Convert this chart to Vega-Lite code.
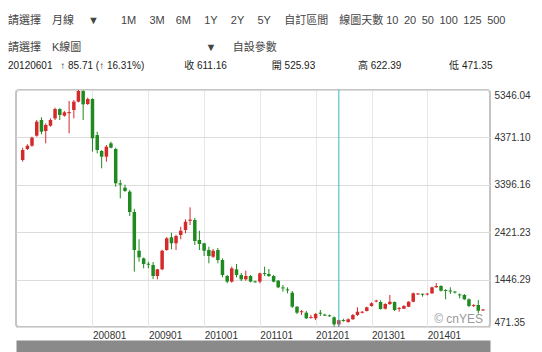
{
  "$schema": "https://vega.github.io/schema/vega-lite/v6.json",
  "width": 474,
  "height": 237,
  "autosize": "none",
  "padding": {"left": 16, "top": 90, "right": 52, "bottom": 25},
  "background": "#ffffff",
  "title": {
    "text": ["請選擇\u2003月線\u2003 ▼\u2003\u20031M\u2003\u20093M\u20036M\u2003\u20091Y\u2003\u20092Y\u2003\u20095Y\u2003\u2009自訂區間\u2003線圖天數 10\u200220\u200250\u2002100\u2002125\u2002500", "請選擇\u2003K線圖\u2003\u2003\u2003\u2003\u2003\u2003\u2003\u2003\u2003\u2003\u2003 ▼\u2003\u2002自設參數"],
    "subtitle": "20120601\u2002 ↑ 85.71 (↑ 16.31%)\u2003\u2003\u2003\u2003收 611.16\u2003\u2003\u2003\u2003\u2002開 525.93\u2003\u2003\u2003\u2003 高 622.39\u2003\u2003\u2003\u2003\u2002 低 471.35",
    "anchor": "start",
    "frame": "group",
    "dx": -8,
    "offset": 19,
    "font": "Liberation Sans, Noto Sans CJK TC, sans-serif",
    "fontSize": 11,
    "fontWeight": "normal",
    "color": "#444444",
    "lineHeight": 27,
    "subtitleFont": "Liberation Sans, Noto Sans CJK TC, sans-serif",
    "subtitleFontSize": 10,
    "subtitleColor": "#222222",
    "subtitlePadding": 8
  },
  "data": {
    "values": [
      {"d": "2006/10/01", "o": 3906, "h": 4160, "l": 3872, "c": 4112},
      {"d": "2006/11/01", "o": 4133, "h": 4230, "l": 4112, "c": 4200},
      {"d": "2006/12/01", "o": 4200, "h": 4385, "l": 4180, "c": 4365},
      {"d": "2007/01/01", "o": 4406, "h": 4729, "l": 4385, "c": 4694},
      {"d": "2007/02/01", "o": 4729, "h": 4784, "l": 4434, "c": 4488},
      {"d": "2007/03/01", "o": 4503, "h": 4660, "l": 4249, "c": 4626},
      {"d": "2007/04/01", "o": 4612, "h": 4763, "l": 4592, "c": 4729},
      {"d": "2007/05/01", "o": 4763, "h": 4982, "l": 4729, "c": 4955},
      {"d": "2007/06/01", "o": 4955, "h": 4969, "l": 4729, "c": 4832},
      {"d": "2007/07/01", "o": 4818, "h": 4914, "l": 4797, "c": 4887},
      {"d": "2007/08/01", "o": 4870, "h": 5120, "l": 4455, "c": 4892},
      {"d": "2007/09/01", "o": 4935, "h": 5140, "l": 4763, "c": 5106},
      {"d": "2007/10/01", "o": 5106, "h": 5346.04, "l": 5092, "c": 5325},
      {"d": "2007/11/01", "o": 5325, "h": 5340, "l": 4729, "c": 5051},
      {"d": "2007/12/01", "o": 5058, "h": 5188, "l": 5037, "c": 5161},
      {"d": "2008/01/01", "o": 5161, "h": 5175, "l": 4078, "c": 4352},
      {"d": "2008/02/01", "o": 4420, "h": 4489, "l": 4043, "c": 4112},
      {"d": "2008/03/01", "o": 4092, "h": 4112, "l": 3735, "c": 3975},
      {"d": "2008/04/01", "o": 3975, "h": 4215, "l": 3872, "c": 4180},
      {"d": "2008/05/01", "o": 4249, "h": 4283, "l": 4146, "c": 4160},
      {"d": "2008/06/01", "o": 4132, "h": 4160, "l": 3357, "c": 3427},
      {"d": "2008/07/01", "o": 3427, "h": 3495, "l": 3118, "c": 3400},
      {"d": "2008/08/01", "o": 3337, "h": 3400, "l": 3250, "c": 3269},
      {"d": "2008/09/01", "o": 3255, "h": 3290, "l": 2755, "c": 2837},
      {"d": "2008/10/01", "o": 2837, "h": 2900, "l": 1610, "c": 2055},
      {"d": "2008/11/01", "o": 2040, "h": 2275, "l": 1815, "c": 1905},
      {"d": "2008/12/01", "o": 1884, "h": 1900, "l": 1678, "c": 1767},
      {"d": "2009/01/01", "o": 1772, "h": 1815, "l": 1678, "c": 1752},
      {"d": "2009/02/01", "o": 1747, "h": 1808, "l": 1458, "c": 1520},
      {"d": "2009/03/01", "o": 1520, "h": 1665, "l": 1452, "c": 1658},
      {"d": "2009/04/01", "o": 1658, "h": 2060, "l": 1640, "c": 2040},
      {"d": "2009/05/01", "o": 2055, "h": 2320, "l": 2040, "c": 2295},
      {"d": "2009/06/01", "o": 2316, "h": 2411, "l": 2070, "c": 2193},
      {"d": "2009/07/01", "o": 2193, "h": 2370, "l": 2055, "c": 2343},
      {"d": "2009/08/01", "o": 2364, "h": 2535, "l": 2275, "c": 2452},
      {"d": "2009/09/01", "o": 2466, "h": 2686, "l": 2398, "c": 2637},
      {"d": "2009/10/01", "o": 2655, "h": 2933, "l": 2569, "c": 2680},
      {"d": "2009/11/01", "o": 2672, "h": 2714, "l": 2158, "c": 2240},
      {"d": "2009/12/01", "o": 2261, "h": 2452, "l": 2055, "c": 2178},
      {"d": "2010/01/01", "o": 2193, "h": 2200, "l": 1931, "c": 2040},
      {"d": "2010/02/01", "o": 2055, "h": 2123, "l": 1781, "c": 1931},
      {"d": "2010/03/01", "o": 1917, "h": 2075, "l": 1890, "c": 2040},
      {"d": "2010/04/01", "o": 2055, "h": 2096, "l": 1781, "c": 1849},
      {"d": "2010/05/01", "o": 1849, "h": 1884, "l": 1493, "c": 1541},
      {"d": "2010/06/01", "o": 1520, "h": 1541, "l": 1370, "c": 1404},
      {"d": "2010/07/01", "o": 1404, "h": 1713, "l": 1383, "c": 1678},
      {"d": "2010/08/01", "o": 1658, "h": 1767, "l": 1493, "c": 1541},
      {"d": "2010/09/01", "o": 1541, "h": 1582, "l": 1417, "c": 1452},
      {"d": "2010/10/01", "o": 1452, "h": 1630, "l": 1424, "c": 1520},
      {"d": "2010/11/01", "o": 1520, "h": 1541, "l": 1390, "c": 1404},
      {"d": "2010/12/01", "o": 1410, "h": 1425, "l": 1383, "c": 1390},
      {"d": "2011/01/01", "o": 1404, "h": 1589, "l": 1370, "c": 1575},
      {"d": "2011/02/01", "o": 1580, "h": 1712, "l": 1520, "c": 1560},
      {"d": "2011/03/01", "o": 1561, "h": 1664, "l": 1500, "c": 1520},
      {"d": "2011/04/01", "o": 1520, "h": 1541, "l": 1390, "c": 1404},
      {"d": "2011/05/01", "o": 1424, "h": 1438, "l": 1270, "c": 1287},
      {"d": "2011/06/01", "o": 1285, "h": 1335, "l": 1198, "c": 1265},
      {"d": "2011/07/01", "o": 1245, "h": 1287, "l": 1164, "c": 1225},
      {"d": "2011/08/01", "o": 1177, "h": 1212, "l": 862, "c": 889},
      {"d": "2011/09/01", "o": 889, "h": 900, "l": 738, "c": 766},
      {"d": "2011/10/01", "o": 775, "h": 821, "l": 718, "c": 795},
      {"d": "2011/11/01", "o": 766, "h": 800, "l": 636, "c": 650},
      {"d": "2011/12/01", "o": 655, "h": 718, "l": 645, "c": 675},
      {"d": "2012/01/01", "o": 650, "h": 760, "l": 615, "c": 739},
      {"d": "2012/02/01", "o": 765, "h": 821, "l": 697, "c": 745},
      {"d": "2012/03/01", "o": 725, "h": 745, "l": 697, "c": 705},
      {"d": "2012/04/01", "o": 712, "h": 725, "l": 680, "c": 692},
      {"d": "2012/05/01", "o": 670, "h": 690, "l": 478, "c": 525.93},
      {"d": "2012/06/01", "o": 525.93, "h": 622.39, "l": 471.35, "c": 611.16},
      {"d": "2012/07/01", "o": 615, "h": 640, "l": 580, "c": 595},
      {"d": "2012/08/01", "o": 575, "h": 650, "l": 560, "c": 630},
      {"d": "2012/09/01", "o": 630, "h": 740, "l": 620, "c": 718},
      {"d": "2012/10/01", "o": 718, "h": 877, "l": 700, "c": 786},
      {"d": "2012/11/01", "o": 765, "h": 800, "l": 750, "c": 785},
      {"d": "2012/12/01", "o": 800, "h": 890, "l": 790, "c": 876},
      {"d": "2013/01/01", "o": 903, "h": 980, "l": 890, "c": 959},
      {"d": "2013/02/01", "o": 995, "h": 1030, "l": 980, "c": 1015},
      {"d": "2013/03/01", "o": 985, "h": 1020, "l": 830, "c": 842},
      {"d": "2013/04/01", "o": 848, "h": 960, "l": 830, "c": 944},
      {"d": "2013/05/01", "o": 944, "h": 1130, "l": 924, "c": 991},
      {"d": "2013/06/01", "o": 985, "h": 995, "l": 800, "c": 821},
      {"d": "2013/07/01", "o": 845, "h": 880, "l": 786, "c": 865},
      {"d": "2013/08/01", "o": 848, "h": 920, "l": 840, "c": 903},
      {"d": "2013/09/01", "o": 889, "h": 1000, "l": 880, "c": 991},
      {"d": "2013/10/01", "o": 991, "h": 1180, "l": 980, "c": 1164},
      {"d": "2013/11/01", "o": 1142, "h": 1170, "l": 1130, "c": 1160},
      {"d": "2013/12/01", "o": 1155, "h": 1160, "l": 1095, "c": 1135},
      {"d": "2014/01/01", "o": 1140, "h": 1170, "l": 1120, "c": 1158},
      {"d": "2014/02/01", "o": 1164, "h": 1300, "l": 1150, "c": 1288},
      {"d": "2014/03/01", "o": 1288, "h": 1376, "l": 1280, "c": 1315},
      {"d": "2014/04/01", "o": 1315, "h": 1330, "l": 1200, "c": 1218},
      {"d": "2014/05/01", "o": 1232, "h": 1250, "l": 1040, "c": 1212},
      {"d": "2014/06/01", "o": 1222, "h": 1288, "l": 1150, "c": 1202},
      {"d": "2014/07/01", "o": 1200, "h": 1210, "l": 1160, "c": 1180},
      {"d": "2014/08/01", "o": 1142, "h": 1160, "l": 1060, "c": 1122},
      {"d": "2014/09/01", "o": 1130, "h": 1150, "l": 1030, "c": 1040},
      {"d": "2014/10/01", "o": 1040, "h": 1060, "l": 880, "c": 903},
      {"d": "2014/11/01", "o": 905, "h": 940, "l": 880, "c": 925},
      {"d": "2014/12/01", "o": 924, "h": 1027, "l": 750, "c": 806},
      {"d": "2015/01/01", "o": 812, "h": 840, "l": 800, "c": 832}
    ]
  },
  "layer": [
    {
      "mark": {"type": "rule", "strokeWidth": 1},
      "encoding": {
        "x": {
          "field": "d", "type": "temporal",
          "scale": {"domain": [{"year": 2006, "month": 9, "date": 20}, {"year": 2015, "month": 1, "date": 14}]},
          "axis": {
            "values": [{"year": 2008, "month": 1, "date": 1}, {"year": 2009, "month": 1, "date": 1}, {"year": 2010, "month": 1, "date": 1}, {"year": 2011, "month": 1, "date": 1}, {"year": 2012, "month": 1, "date": 1}, {"year": 2013, "month": 1, "date": 1}, {"year": 2014, "month": 1, "date": 1}],
            "format": "%Y%m", "title": null, "ticks": false,
            "domain": true, "domainWidth": 12, "domainColor": "#8a8a8a", "offset": 19,
            "grid": true, "gridColor": "#e6e6e6", "labelAlign": "left", "labelPadding": -16, "labelFontSize": 10,
            "labelColor": "#333333", "labelFont": "Liberation Sans", "labelOverlap": false, "labelFlush": false, "labelBaseline": "top"
          }
        },
        "y": {
          "field": "l", "type": "quantitative",
          "scale": {"domain": [471.35, 5346.04], "nice": false, "zero": false},
          "axis": {
            "orient": "right", "title": null,
            "values": [471.35, 958.819, 1446.288, 1933.757, 2421.226, 2908.695, 3396.164, 3883.633, 4371.102, 4858.571, 5346.04],
            "format": ".2f",
            "labelExpr": "indexof(['471.35','1446.29','2421.23','3396.16','4371.10','5346.04'], datum.label) >= 0 ? datum.label : ''",
            "ticks": false, "domain": false, "grid": true, "gridColor": "#dcdcdc",
            "labelFlush": true, "labelOverlap": false, "labelPadding": 4, "labelFontSize": 10,
            "labelColor": "#333333", "labelFont": "Liberation Sans"
          }
        },
        "y2": {"field": "h"},
        "color": {"condition": {"test": "datum.c >= datum.o", "value": "#d42a2a"}, "value": "#1f8a1f"}
      }
    },
    {
      "mark": {"type": "bar", "size": 3.5},
      "encoding": {
        "x": {"field": "d", "type": "temporal"},
        "y": {"field": "o", "type": "quantitative"},
        "y2": {"field": "c"},
        "color": {"condition": {"test": "datum.c >= datum.o", "value": "#d42a2a"}, "value": "#1f8a1f"}
      }
    },
    {
      "data": {"values": [{"d": "2012/06/01"}]},
      "mark": {"type": "rule", "color": "#35b7c7", "strokeWidth": 1},
      "encoding": {"x": {"field": "d", "type": "temporal"}}
    },
    {
      "data": {"values": [{"t": "© cnYES"}]},
      "mark": {"type": "text", "align": "right", "baseline": "alphabetic", "dx": -2, "dy": -4, "fontSize": 12, "color": "#9a9a9a", "font": "Liberation Sans"},
      "encoding": {
        "x": {"datum": {"year": 2015, "month": 1, "date": 14}, "type": "temporal"},
        "y": {"datum": 471.35, "type": "quantitative"},
        "text": {"field": "t"}
      }
    }
  ],
  "config": {
    "view": {"stroke": "#c4c4c4", "strokeWidth": 2, "cornerRadius": 3}
  }
}
